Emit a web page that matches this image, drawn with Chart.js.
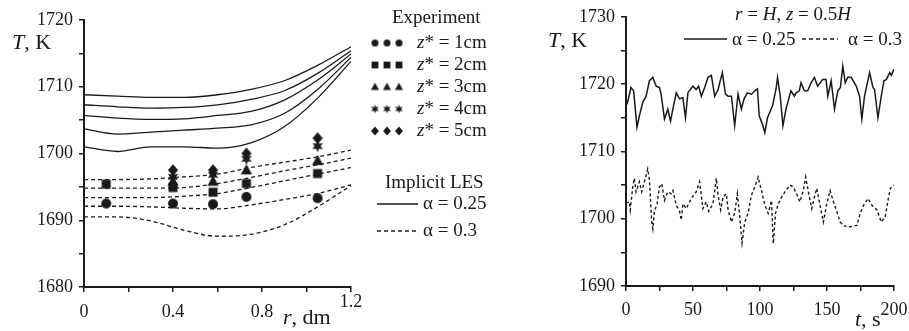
<!DOCTYPE html>
<html>
<head>
<meta charset="utf-8">
<title>Temperature profiles</title>
<script src="https://cdn.jsdelivr.net/npm/chart.js@4.4.1/dist/chart.umd.min.js"></script>
<style>
  body { margin: 0; background: #fff; }
  #wrap { position: relative; width: 909px; height: 331px; overflow: hidden; }
  #left { position: absolute; left: 0; top: 0; }
  #right { position: absolute; left: 500px; top: 0; }
</style>
</head>
<body>
<div id="wrap">
  <canvas id="left" width="500" height="331"></canvas>
  <canvas id="right" width="409" height="331"></canvas>
</div>
<script>
// ---- left panel: T(r) ----
const rLine = [0, 0.15, 0.3, 0.45, 0.6, 0.75, 0.9, 1.05, 1.2];

// Implicit LES, alpha = 0.25 (z* = 5..1 cm, top to bottom)
const les025 = [
  [1708.8, 1708.6, 1708.4, 1708.4, 1708.8, 1709.6, 1710.9, 1713.2, 1716.0],
  [1707.3, 1707.0, 1706.8, 1706.9, 1707.3, 1708.1, 1709.4, 1712.0, 1715.4],
  [1705.7, 1705.3, 1705.1, 1705.2, 1705.7, 1706.3, 1708.0, 1711.0, 1714.9],
  [1703.7, 1702.9, 1703.2, 1703.5, 1703.8, 1704.3, 1706.0, 1709.6, 1714.4],
  [1701.0, 1700.3, 1701.0, 1701.0, 1700.8, 1701.6, 1704.0, 1708.3, 1713.8]
];

// Implicit LES, alpha = 0.3
const les03 = [
  [1696.1, 1696.1, 1696.2, 1696.5, 1696.9, 1697.9, 1698.7, 1699.5, 1700.5],
  [1694.8, 1694.8, 1694.8, 1694.9, 1695.5, 1696.4, 1697.4, 1698.3, 1699.3],
  [1693.4, 1693.4, 1693.4, 1693.6, 1694.0, 1694.9, 1695.9, 1696.9, 1697.9],
  [1692.1, 1692.1, 1692.0, 1691.8, 1691.7, 1692.3, 1693.1, 1694.0, 1695.3],
  [1690.5, 1690.5, 1689.9, 1688.5, 1687.6, 1687.9, 1689.3, 1692.0, 1695.2]
];

// experiment
const rExp = [0.1, 0.4, 0.58, 0.73, 1.05];
const zLevels = [1, 2, 3, 4, 5];
const expZ1 = [1692.5, 1692.5, 1692.4, 1693.5, 1693.3];
const expZ2 = [1695.4, 1694.9, 1694.2, 1695.5, 1697.0];
const expZ3 = [null, 1695.8, 1695.8, 1697.5, 1698.9];
const expZ4 = [null, 1696.5, 1696.8, 1699.2, 1701.1];
const expZ5 = [null, 1697.5, 1697.5, 1700.0, 1702.3];
const markerKinds = ['circle', 'square', 'triangle', 'star', 'diamond'];

// ---- right panel: T(t) at r = H, z = 0.5H ----
const tSolid = [0, 1.2, 3.7, 5.7, 8.2, 10, 12.5, 15, 17.5, 20, 22.5, 25, 26.2, 28.7, 31.2, 33.2, 35, 37.5, 40, 42.4,
  44.4, 46.2, 49.9, 52.4, 54.2, 56.2, 58.7, 61.2, 63.7, 66.2, 68.7, 71.9, 74.2, 76.2, 78.7, 81.1, 83.6, 86.1, 88.1, 90.6,
  93.6, 96.1, 98.1, 99.4, 101.9, 103.6, 105.6, 109.4, 111.9, 113.1, 115.1, 117.1, 119.4, 123.1, 125.6, 126.9, 129.3, 130.6, 133.1, 135.6,
  138.1, 140.6, 143.0, 146.8, 149.3, 150.6, 153.1, 155.6, 158.1, 160.0, 161.8, 163.6, 165.5, 168.0, 171.8, 174.3, 176.0, 178.0, 181.8, 184.3,
  185.5, 188.0, 190.5, 192.5, 194.3, 196.8, 198.0, 200];
const TSolid = [1716.8, 1717.3, 1719.5, 1719.0, 1713.6, 1715.3, 1717.3, 1718.2, 1720.5, 1721.0, 1719.7, 1719.5, 1718.5, 1714.8, 1716.3, 1714.5, 1716.3, 1718.7, 1717.8, 1718.0,
  1715.0, 1718.7, 1719.7, 1719.2, 1719.7, 1718.2, 1719.5, 1721.0, 1721.3, 1718.2, 1719.2, 1721.7, 1718.5, 1718.2, 1718.2, 1713.8, 1718.5, 1716.3, 1717.8, 1718.7,
  1718.5, 1719.0, 1719.3, 1715.3, 1714.0, 1712.8, 1715.0, 1716.8, 1719.2, 1721.0, 1718.2, 1713.8, 1716.3, 1719.0, 1718.2, 1718.7, 1719.0, 1720.2, 1719.0, 1719.0,
  1720.2, 1721.0, 1719.7, 1720.7, 1720.7, 1718.2, 1720.5, 1716.3, 1719.0, 1719.5, 1722.7, 1720.2, 1721.0, 1721.0, 1719.7, 1718.2, 1714.8, 1718.2, 1721.7, 1719.5,
  1719.2, 1715.0, 1718.2, 1720.5, 1720.7, 1721.7, 1721.3, 1722.2];

const tDashed = [0, 2.5, 3.2, 5.0, 6.2, 7.5, 10.0, 11.7, 13.7, 16.2, 17.5, 19.2, 20.0, 21.2, 23.2, 25.0, 26.7, 28.7, 31.2, 33.7,
  35.0, 37.5, 40.0, 41.2, 42.5, 45.0, 48.7, 52.4, 54.9, 57.4, 59.9, 61.7, 64.9, 67.4, 68.7, 70.7, 72.4, 74.9, 76.2, 78.7,
  81.1, 83.1, 84.9, 86.6, 88.6, 91.1, 93.6, 96.1, 98.6, 101.1, 103.6, 106.1, 108.6, 109.9, 111.6, 113.6, 116.1, 118.6, 122.3, 124.8,
  127.3, 129.8, 132.3, 134.1, 136.1, 138.6, 140.6, 142.3, 144.8, 147.3, 149.8, 152.3, 154.8, 157.3, 159.8, 162.3, 164.8, 167.3, 169.8, 172.3,
  174.8, 177.3, 180.6, 183.5, 187.3, 190.5, 193.5, 195.5, 197.3, 199.8];
const TDashed = [1702.3, 1702.5, 1701.3, 1704.7, 1706.0, 1704.0, 1705.5, 1704.0, 1705.5, 1707.4, 1705.7, 1699.5, 1698.5, 1701.1, 1702.2, 1704.7, 1705.2, 1702.7, 1704.0, 1703.7,
  1704.2, 1702.0, 1701.1, 1699.8, 1702.2, 1701.5, 1703.0, 1704.0, 1705.5, 1701.5, 1702.5, 1701.1, 1702.2, 1706.0, 1703.5, 1701.3, 1703.2, 1703.7, 1701.3, 1699.5,
  1700.8, 1703.7, 1700.3, 1696.4, 1699.5, 1700.8, 1703.5, 1704.7, 1706.2, 1704.2, 1702.0, 1700.8, 1702.7, 1696.3, 1700.8, 1702.2, 1703.2, 1704.0, 1705.0, 1704.7,
  1703.7, 1702.5, 1704.2, 1706.2, 1704.0, 1701.5, 1703.2, 1704.5, 1702.0, 1699.5, 1702.2, 1704.2, 1702.5, 1701.1, 1699.5, 1699.0, 1698.8, 1698.8, 1698.9, 1699.0,
  1700.8, 1702.0, 1703.0, 1702.0, 1701.3, 1699.5, 1700.3, 1702.7, 1704.5, 1705.0];

const FONT = "'Liberation Serif', 'Times New Roman', serif";
const INK = '#1a1a1a';
Chart.defaults.font.family = FONT;
Chart.defaults.color = INK;

// filled marker shapes
function drawShape(ctx, kind, x, y, r) {
  ctx.beginPath();
  if (kind === 'circle') {
    ctx.arc(x, y, r, 0, Math.PI * 2);
  } else if (kind === 'square') {
    ctx.rect(x - r * 0.9, y - r * 0.9, r * 1.8, r * 1.8);
  } else if (kind === 'triangle') {
    ctx.moveTo(x, y - r);
    ctx.lineTo(x + r * 0.95, y + r * 0.7);
    ctx.lineTo(x - r * 0.95, y + r * 0.7);
  } else if (kind === 'diamond') {
    ctx.moveTo(x, y - r);
    ctx.lineTo(x + r * 0.85, y);
    ctx.lineTo(x, y + r);
    ctx.lineTo(x - r * 0.85, y);
  } else if (kind === 'star') {
    for (let k = 0; k < 12; k++) {
      const a = -Math.PI / 2 + k * Math.PI / 6;
      const rr = k % 2 ? r * 0.5 : r;
      ctx.lineTo(x + rr * Math.cos(a), y + rr * Math.sin(a));
    }
  }
  ctx.closePath();
  ctx.fill();
}

function makeMarker(kind, r) {
  const c = document.createElement('canvas');
  const s = Math.ceil(r * 2 + 2);
  c.width = s;
  c.height = s;
  const ctx = c.getContext('2d');
  ctx.fillStyle = INK;
  drawShape(ctx, kind, s / 2, s / 2, r);
  return c;
}

// text with italic pieces: parts = [[text, italic], ...]
function drawRich(ctx, parts, x, y, size, align) {
  ctx.save();
  ctx.fillStyle = INK;
  ctx.textBaseline = 'middle';
  const fonts = parts.map(p => (p[1] ? 'italic ' : '') + size + 'px ' + FONT);
  const widths = parts.map((p, i) => { ctx.font = fonts[i]; return ctx.measureText(p[0]).width; });
  const total = widths.reduce((a, b) => a + b, 0);
  let cx = align === 'center' ? x - total / 2 : x;
  parts.forEach((p, i) => {
    ctx.font = fonts[i];
    ctx.fillText(p[0], cx, y);
    cx += widths[i];
  });
  ctx.restore();
}

function sample(ctx, x1, x2, y, dash) {
  ctx.save();
  ctx.strokeStyle = INK;
  ctx.lineWidth = 1.3;
  ctx.setLineDash(dash);
  ctx.beginPath();
  ctx.moveTo(x1, y);
  ctx.lineTo(x2, y);
  ctx.stroke();
  ctx.restore();
}

function axisStyle(extra) {
  return Object.assign({
    type: 'linear',
    grid: { drawOnChartArea: false, tickLength: 5, color: INK, lineWidth: 1.5 },
    border: { color: INK, width: 2 }
  }, extra);
}

// ---- left chart ----
const chartMarks = [5, 5, 6, 6, 6];
const legendMarks = [3.5, 3.8, 4.3, 4.3, 4.6];
const expSeries = [expZ1, expZ2, expZ3, expZ4, expZ5];

const leftSets = [];
les025.forEach(arr => leftSets.push({
  data: rLine.map((r, i) => ({ x: r, y: arr[i] })),
  showLine: true, borderColor: INK, borderWidth: 1.3, pointRadius: 0,
  cubicInterpolationMode: 'monotone'
}));
les03.forEach(arr => leftSets.push({
  data: rLine.map((r, i) => ({ x: r, y: arr[i] })),
  showLine: true, borderColor: INK, borderWidth: 1.3, borderDash: [4, 3], pointRadius: 0,
  cubicInterpolationMode: 'monotone'
}));
expSeries.forEach((arr, k) => leftSets.push({
  data: rExp.map((r, i) => ({ x: r, y: arr[i] })).filter(p => p.y !== null),
  showLine: false, pointStyle: makeMarker(markerKinds[k], chartMarks[k]),
  pointRadius: 5, backgroundColor: INK, borderWidth: 0
}));

const leftText = {
  id: 'leftText',
  afterDraw(chart) {
    const ctx = chart.ctx;
    drawRich(ctx, [['T', true], [', K', false]], 12, 43, 22);
    drawRich(ctx, [['r', true], [', dm', false]], 283, 318, 22);
    drawRich(ctx, [['1.2', false]], chart.scales.x.getPixelForValue(1.2), 302, 18, 'center');

    drawRich(ctx, [['Experiment', false]], 392, 18, 19);
    const rowY = [43, 65, 87, 109, 131];
    zLevels.forEach((z, k) => {
      const img = makeMarker(markerKinds[k], legendMarks[k]);
      [375, 387, 399].forEach(mx => ctx.drawImage(img, mx - img.width / 2, rowY[k] - img.height / 2));
      drawRich(ctx, [['z', true], ['* = ' + z + 'cm', false]], 417, rowY[k], 19);
    });

    drawRich(ctx, [['Implicit LES', false]], 385, 183, 19);
    sample(ctx, 377, 418, 204, []);
    drawRich(ctx, [['α = 0.25', false]], 423, 204, 19);
    sample(ctx, 377, 418, 231, [4, 3]);
    drawRich(ctx, [['α = 0.3', false]], 423, 231, 19);
  }
};

new Chart(document.getElementById('left'), {
  type: 'scatter',
  data: { datasets: leftSets },
  options: {
    responsive: false, animation: false, devicePixelRatio: 1,
    layout: { padding: { left: 0, right: 149, top: 20, bottom: 0 } },
    plugins: { legend: { display: false }, tooltip: { enabled: false } },
    scales: {
      x: axisStyle({
        min: 0, max: 1.2,
        ticks: {
          stepSize: 0.2, autoSkip: false, maxRotation: 0, padding: 9, font: { size: 18 },
          callback: v => { const s = Math.round(v * 10) / 10; return (s === 0 || s === 0.4 || s === 0.8) ? String(s) : ''; }
        },
        afterFit: s => { s.height = 44; s.paddingLeft = 0; s.paddingRight = 0; }
      }),
      y: axisStyle({
        min: 1680, max: 1720,
        ticks: { stepSize: 5, autoSkip: false, padding: 6, font: { size: 18 }, callback: v => v % 10 === 0 ? v : '' },
        afterFit: s => { s.width = 84; }
      })
    }
  },
  plugins: [leftText]
});

// ---- right chart ----
const rightText = {
  id: 'rightText',
  afterDraw(chart) {
    const ctx = chart.ctx;
    drawRich(ctx, [['T', true], [', K', false]], 48, 41, 22);
    drawRich(ctx, [['t', true], [', s', false]], 355, 320, 22);
    drawRich(ctx, [['r', true], [' = ', false], ['H', true], [', ', false], ['z', true], [' = 0.5', false], ['H', true]], 293, 15, 19, 'center');
    sample(ctx, 184, 227, 39, []);
    drawRich(ctx, [['α = 0.25', false]], 232, 40, 19);
    sample(ctx, 302, 338, 39, [4, 3]);
    drawRich(ctx, [['α = 0.3', false]], 348, 40, 19);
  }
};

new Chart(document.getElementById('right'), {
  type: 'scatter',
  data: {
    datasets: [
      { data: tSolid.map((t, i) => ({ x: t, y: TSolid[i] })), showLine: true, borderColor: INK, borderWidth: 1.5, pointRadius: 0 },
      { data: tDashed.map((t, i) => ({ x: t, y: TDashed[i] })), showLine: true, borderColor: INK, borderWidth: 1.4, borderDash: [3, 2.5], pointRadius: 0 }
    ]
  },
  options: {
    responsive: false, animation: false, devicePixelRatio: 1,
    layout: { padding: { left: 0, right: 15, top: 16, bottom: 0 } },
    plugins: { legend: { display: false }, tooltip: { enabled: false } },
    scales: {
      x: axisStyle({
        min: 0, max: 200,
        ticks: { stepSize: 25, autoSkip: false, maxRotation: 0, padding: 8, font: { size: 18 }, callback: v => v % 50 === 0 ? v : '' },
        afterFit: s => { s.height = 45; s.paddingLeft = 0; s.paddingRight = 0; }
      }),
      y: axisStyle({
        min: 1690, max: 1730,
        ticks: { stepSize: 5, autoSkip: false, padding: 6, font: { size: 18 }, callback: v => v % 10 === 0 ? v : '' },
        afterFit: s => { s.width = 126; }
      })
    }
  },
  plugins: [rightText]
});
</script>
</body>
</html>
